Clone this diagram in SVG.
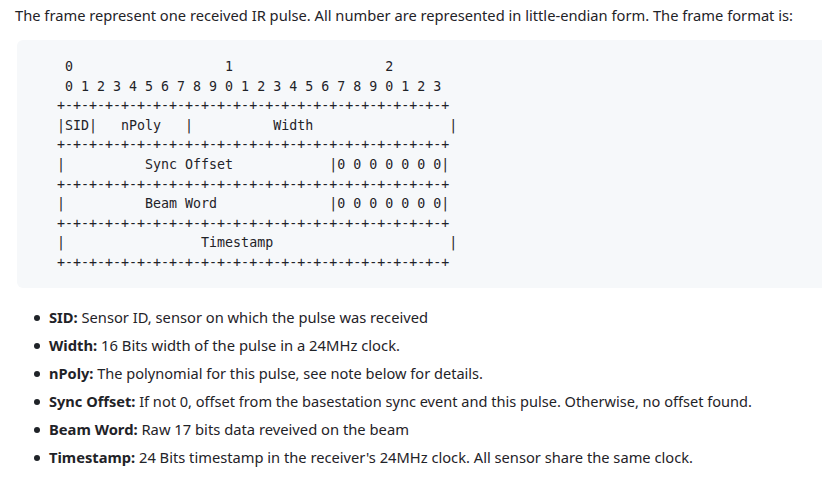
<svg xmlns="http://www.w3.org/2000/svg" width="822" height="485" viewBox="0 0 822 485">
<style>
.p{font-family:"Noto Sans","Open Sans","Liberation Sans",sans-serif;font-size:15px;fill:#1f2328}
.b{font-weight:bold}
.m{font-family:"DejaVu Sans Mono","Liberation Mono",monospace;font-size:13.3px;fill:#1f2328;white-space:pre}
.dot{fill:#1f2328}
</style>
<rect x="0" y="0" width="822" height="485" fill="#ffffff"/>
<text class="p" x="15" y="21" textLength="778" lengthAdjust="spacingAndGlyphs">The frame represent one received IR pulse. All number are represented in little-endian form. The frame format is:</text>
<g id="codeblock">
<rect x="17" y="40" width="815" height="248" rx="6" fill="#f6f8fa"/>
<text class="m" xml:space="preserve" x="57" y="71"> 0                   1                   2</text>
<text class="m" xml:space="preserve" x="57" y="90.6"> 0 1 2 3 4 5 6 7 8 9 0 1 2 3 4 5 6 7 8 9 0 1 2 3</text>
<text class="m" xml:space="preserve" x="57" y="110.2">+-+-+-+-+-+-+-+-+-+-+-+-+-+-+-+-+-+-+-+-+-+-+-+-+</text>
<text class="m" xml:space="preserve" x="57" y="129.8">|SID|   nPoly   |          Width                 |</text>
<text class="m" xml:space="preserve" x="57" y="149.4">+-+-+-+-+-+-+-+-+-+-+-+-+-+-+-+-+-+-+-+-+-+-+-+-+</text>
<text class="m" xml:space="preserve" x="57" y="169">|          Sync Offset            |0 0 0 0 0 0 0|</text>
<text class="m" xml:space="preserve" x="57" y="188.6">+-+-+-+-+-+-+-+-+-+-+-+-+-+-+-+-+-+-+-+-+-+-+-+-+</text>
<text class="m" xml:space="preserve" x="57" y="208.2">|          Beam Word              |0 0 0 0 0 0 0|</text>
<text class="m" xml:space="preserve" x="57" y="227.8">+-+-+-+-+-+-+-+-+-+-+-+-+-+-+-+-+-+-+-+-+-+-+-+-+</text>
<text class="m" xml:space="preserve" x="57" y="247.4">|                 Timestamp                      |</text>
<text class="m" xml:space="preserve" x="57" y="267">+-+-+-+-+-+-+-+-+-+-+-+-+-+-+-+-+-+-+-+-+-+-+-+-+</text>
</g>
<g id="list">
<circle class="dot" cx="37" cy="318" r="3"/>
<text class="p" x="49" y="323" textLength="379" lengthAdjust="spacingAndGlyphs"><tspan class="b">SID:</tspan> Sensor ID, sensor on which the pulse was received</text>
<circle class="dot" cx="37" cy="346" r="3"/>
<text class="p" x="49" y="351" textLength="351" lengthAdjust="spacingAndGlyphs"><tspan class="b">Width:</tspan> 16 Bits width of the pulse in a 24MHz clock.</text>
<circle class="dot" cx="37" cy="374" r="3"/>
<text class="p" x="49" y="379" textLength="434" lengthAdjust="spacingAndGlyphs"><tspan class="b">nPoly:</tspan> The polynomial for this pulse, see note below for details.</text>
<circle class="dot" cx="37" cy="402" r="3"/>
<text class="p" x="49" y="407" textLength="703" lengthAdjust="spacingAndGlyphs"><tspan class="b">Sync Offset:</tspan> If not 0, offset from the basestation sync event and this pulse. Otherwise, no offset found.</text>
<circle class="dot" cx="37" cy="430" r="3"/>
<text class="p" x="49" y="435" textLength="360" lengthAdjust="spacingAndGlyphs"><tspan class="b">Beam Word:</tspan> Raw 17 bits data reveived on the beam</text>
<circle class="dot" cx="37" cy="458" r="3"/>
<text class="p" x="49" y="463" textLength="644" lengthAdjust="spacingAndGlyphs"><tspan class="b">Timestamp:</tspan> 24 Bits timestamp in the receiver's 24MHz clock. All sensor share the same clock.</text>
</g>
</svg>
